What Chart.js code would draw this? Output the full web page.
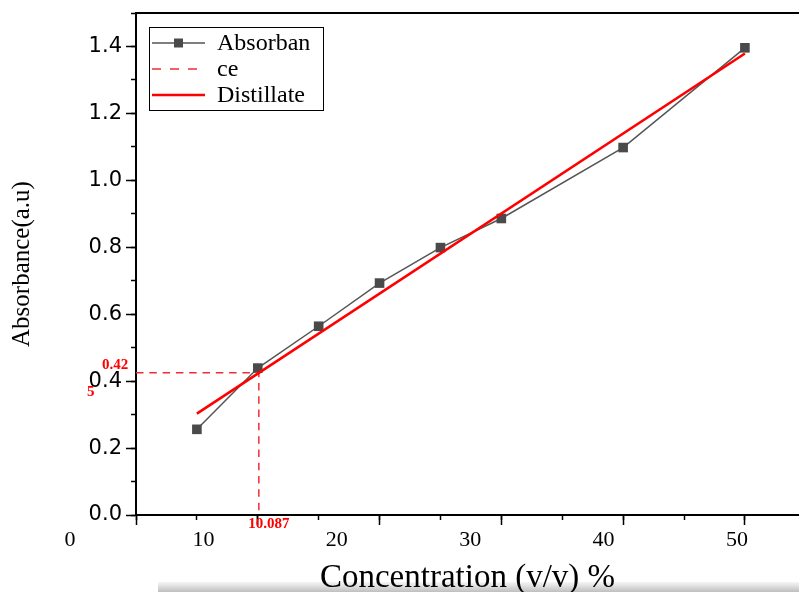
<!DOCTYPE html>
<html>
<head>
<meta charset="utf-8">
<script src="https://cdn.jsdelivr.net/npm/chart.js@4.4.1/dist/chart.umd.min.js"></script>
<style>
  html, body { margin: 0; padding: 0; background: #ffffff; }
  canvas { display: block; }
</style>
</head>
<body>
<canvas id="c" width="799" height="592"></canvas>
<script>
// ---- data ----
const concentration = [5, 10, 15, 20, 25, 30, 40, 50];
const absorbance    = [0.256, 0.439, 0.564, 0.693, 0.799, 0.886, 1.098, 1.396];
const fitX = [5, 50];
const fitY = [0.303, 1.379];
const markX = 10.087;
const markY = 0.425;
const markXText = '10.087';
const markYText = ['0.42', '5'];
const seriesNames = ['Absorban', 'ce', 'Distillate'];
const xTickLabels = [0, 10, 20, 30, 40, 50];
const xMajorTicks = [0, 10, 20, 30, 40, 50];
const yTickLabels = [0.0, 0.2, 0.4, 0.6, 0.8, 1.0, 1.2, 1.4];
const xTitle = 'Concentration (v/v) %';
const yTitle = 'Absorbance(a.u)';

const SERIF = '"Liberation Serif", "Times New Roman", serif';
const SANS = '"DejaVu Sans", sans-serif';

const seriesPoints = concentration.map((x, i) => ({ x: x, y: absorbance[i] }));
const fitPoints = fitX.map((x, i) => ({ x: x, y: fitY[i] }));
const markPoints = [{ x: 0, y: markY }, { x: markX, y: markY }, { x: markX, y: 0 }];

const xLabelFont = { family: SERIF, size: 22, lineHeight: 1.2 };
const xLabelPad = 12;

function noPad(s) { s.paddingLeft = 0; s.paddingRight = 0; s.paddingTop = 0; s.paddingBottom = 0; }

// background + scan shadow band
const backgroundPlugin = {
  id: 'bg',
  beforeDraw(chart) {
    const ctx = chart.ctx;
    ctx.save();
    ctx.fillStyle = '#ffffff';
    ctx.fillRect(0, 0, chart.width, chart.height);
    const g = ctx.createLinearGradient(0, chart.height - 10, 0, chart.height);
    g.addColorStop(0, 'rgba(240,240,240,0.7)');
    g.addColorStop(0.5, 'rgba(215,215,215,0.9)');
    g.addColorStop(1, 'rgba(190,190,190,1)');
    ctx.fillStyle = g;
    ctx.fillRect(158, chart.height - 10, chart.width - 158, 10);
    ctx.restore();
  }
};

// labels of the label axis that fall outside its range (the "0")
const outerLabelPlugin = {
  id: 'outerLabels',
  afterDraw(chart) {
    const s = chart.scales.xl;
    const ctx = chart.ctx;
    ctx.save();
    ctx.font = xLabelFont.size + 'px ' + SERIF;
    ctx.fillStyle = '#000';
    ctx.textAlign = 'center';
    ctx.textBaseline = 'middle';
    const y = s.top + xLabelPad + xLabelFont.size * xLabelFont.lineHeight / 2;
    xTickLabels.forEach(v => {
      if (v < s.min || v > s.max) ctx.fillText(String(v), s.getPixelForValue(v), y);
    });
    ctx.restore();
  }
};

// red value labels for the dashed read-off lines
const markTextPlugin = {
  id: 'markText',
  afterDatasetsDraw(chart) {
    const xs = chart.scales.x, ys = chart.scales.y;
    const ctx = chart.ctx;
    ctx.save();
    ctx.fillStyle = '#ff0000';
    ctx.font = 'bold 15px ' + SERIF;
    ctx.textBaseline = 'middle';
    ctx.textAlign = 'left';
    const py = ys.getPixelForValue(markY);
    ctx.fillText(markYText[0], 102, py - 8);
    ctx.fillText(markYText[1], 87, py + 19);
    ctx.textAlign = 'center';
    ctx.fillText(markXText, xs.getPixelForValue(markX) + 10, xs.bottom + 9);
    ctx.restore();
  }
};

// framed legend inside the plot, drawn from the datasets
const legendPlugin = {
  id: 'boxLegend',
  afterDraw(chart) {
    const ctx = chart.ctx;
    const left = 149.5, top = 27.5, w = 174, h = 83;
    ctx.save();
    ctx.fillStyle = '#ffffff';
    ctx.fillRect(left, top, w, h);
    ctx.strokeStyle = '#000';
    ctx.lineWidth = 1;
    ctx.strokeRect(left, top, w, h);
    const rows = [43, 69, 95];
    chart.data.datasets.forEach((ds, i) => {
      const y = rows[i];
      ctx.save();
      ctx.strokeStyle = ds.borderColor;
      ctx.lineWidth = ds.borderWidth;
      ctx.setLineDash(i === 1 ? [9, 9] : []);
      ctx.beginPath();
      ctx.moveTo(152, y);
      ctx.lineTo(205, y);
      ctx.stroke();
      ctx.restore();
      if (ds.pointRadius > 0) {
        ctx.fillStyle = ds.pointBackgroundColor;
        ctx.fillRect(174, y - 4.5, 9, 9);
      }
      ctx.fillStyle = '#000';
      ctx.font = '24px ' + SERIF;
      ctx.textAlign = 'left';
      ctx.textBaseline = 'middle';
      ctx.fillText(ds.label, 217, y + 1);
    });
    ctx.restore();
  }
};

const X_PX = 12.178;           // px per unit of the plotted axis
const PLOT_LEFT = 136, PLOT_RIGHT = 799;
const xMax = (PLOT_RIGHT - PLOT_LEFT) / X_PX;
const LAB_PX = 13.34, LAB_ZERO = 70;
const xlMin = (PLOT_LEFT - LAB_ZERO) / LAB_PX;
const xlMax = xlMin + (PLOT_RIGHT - PLOT_LEFT) / LAB_PX;

new Chart(document.getElementById('c'), {
  type: 'line',
  data: {
    datasets: [
      {
        label: seriesNames[0],
        data: seriesPoints,
        borderColor: '#555555',
        borderWidth: 1.5,
        pointStyle: 'rect',
        pointRadius: 6.8,
        pointBackgroundColor: '#4a4a4a',
        pointBorderColor: '#4a4a4a',
        pointBorderWidth: 0,
        tension: 0,
        order: 3
      },
      {
        label: seriesNames[1],
        data: markPoints,
        borderColor: 'rgb(240,45,55)',
        borderWidth: 1.5,
        borderDash: [7.5, 5.8],
        pointRadius: 0,
        tension: 0,
        order: 2
      },
      {
        label: seriesNames[2],
        data: fitPoints,
        borderColor: '#ff0000',
        borderWidth: 2.6,
        pointRadius: 0,
        tension: 0,
        order: 1
      }
    ]
  },
  options: {
    responsive: false,
    animation: false,
    events: [],
    layout: { autoPadding: false, padding: { left: 0, right: 0, top: 13, bottom: 0 } },
    plugins: { legend: { display: false }, tooltip: { enabled: false } },
    scales: {
      x: {
        type: 'linear', position: 'bottom', weight: 1,
        min: 0, max: xMax,
        afterBuildTicks: s => { s.ticks = xMajorTicks.map(v => ({ value: v })); },
        ticks: { display: false },
        grid: { display: true, drawOnChartArea: false, drawTicks: true, tickLength: 10, tickWidth: 1.5, tickColor: '#000' },
        border: { display: true, color: '#000', width: 2 },
        afterFit: s => { s.height = 0; noPad(s); }
      },
      xm: {
        type: 'linear', position: 'bottom', weight: 0,
        min: 0, max: xMax,
        ticks: { display: false, stepSize: 5, includeBounds: false },
        grid: { display: true, drawOnChartArea: false, drawTicks: true, tickLength: 5, tickWidth: 1.5, tickColor: '#000' },
        border: { display: false },
        afterFit: s => { s.height = 0; noPad(s); }
      },
      xl: {
        type: 'linear', position: 'bottom', weight: 2,
        min: xlMin, max: xlMax,
        afterBuildTicks: s => { s.ticks = xTickLabels.filter(v => v >= s.min && v <= s.max).map(v => ({ value: v })); },
        ticks: { display: true, color: '#000', font: xLabelFont, padding: xLabelPad, maxRotation: 0, autoSkip: false, callback: v => String(v) },
        grid: { display: false, drawTicks: false },
        border: { display: false },
        title: { display: true, text: xTitle, color: '#000', font: { family: SERIF, size: 33, lineHeight: 1 }, padding: { top: 0, bottom: -3 } },
        afterFit: s => { s.height = 77; noPad(s); }
      },
      xt: {
        type: 'linear', position: 'top', weight: 0,
        min: 0, max: xMax,
        ticks: { display: false },
        grid: { display: false, drawTicks: false },
        border: { display: true, color: '#000', width: 2 },
        afterFit: s => { s.height = 0; noPad(s); }
      },
      y: {
        type: 'linear', position: 'left', weight: 1,
        min: 0, max: 1.5,
        afterBuildTicks: s => { s.ticks = yTickLabels.map(v => ({ value: v })); },
        ticks: { color: '#000', font: { family: SANS, size: 21 }, padding: 4, callback: v => Number(v).toFixed(1) },
        grid: { display: true, drawOnChartArea: false, drawTicks: true, tickLength: 10, tickWidth: 1.5, tickColor: '#000' },
        border: { display: true, color: '#000', width: 2 },
        title: { display: true, text: yTitle, color: '#000', font: { family: SERIF, size: 25, lineHeight: 1.2 }, padding: { top: 7, bottom: 0 } },
        afterFit: s => { s.width = 136; noPad(s); }
      },
      ym: {
        type: 'linear', position: 'left', weight: 0,
        min: 0, max: 1.5,
        ticks: { display: false, stepSize: 0.1 },
        grid: { display: true, drawOnChartArea: false, drawTicks: true, tickLength: 5, tickWidth: 1.5, tickColor: '#000' },
        border: { display: false },
        afterFit: s => { s.width = 0; noPad(s); }
      }
    }
  },
  plugins: [backgroundPlugin, outerLabelPlugin, markTextPlugin, legendPlugin]
});
</script>
</body>
</html>
